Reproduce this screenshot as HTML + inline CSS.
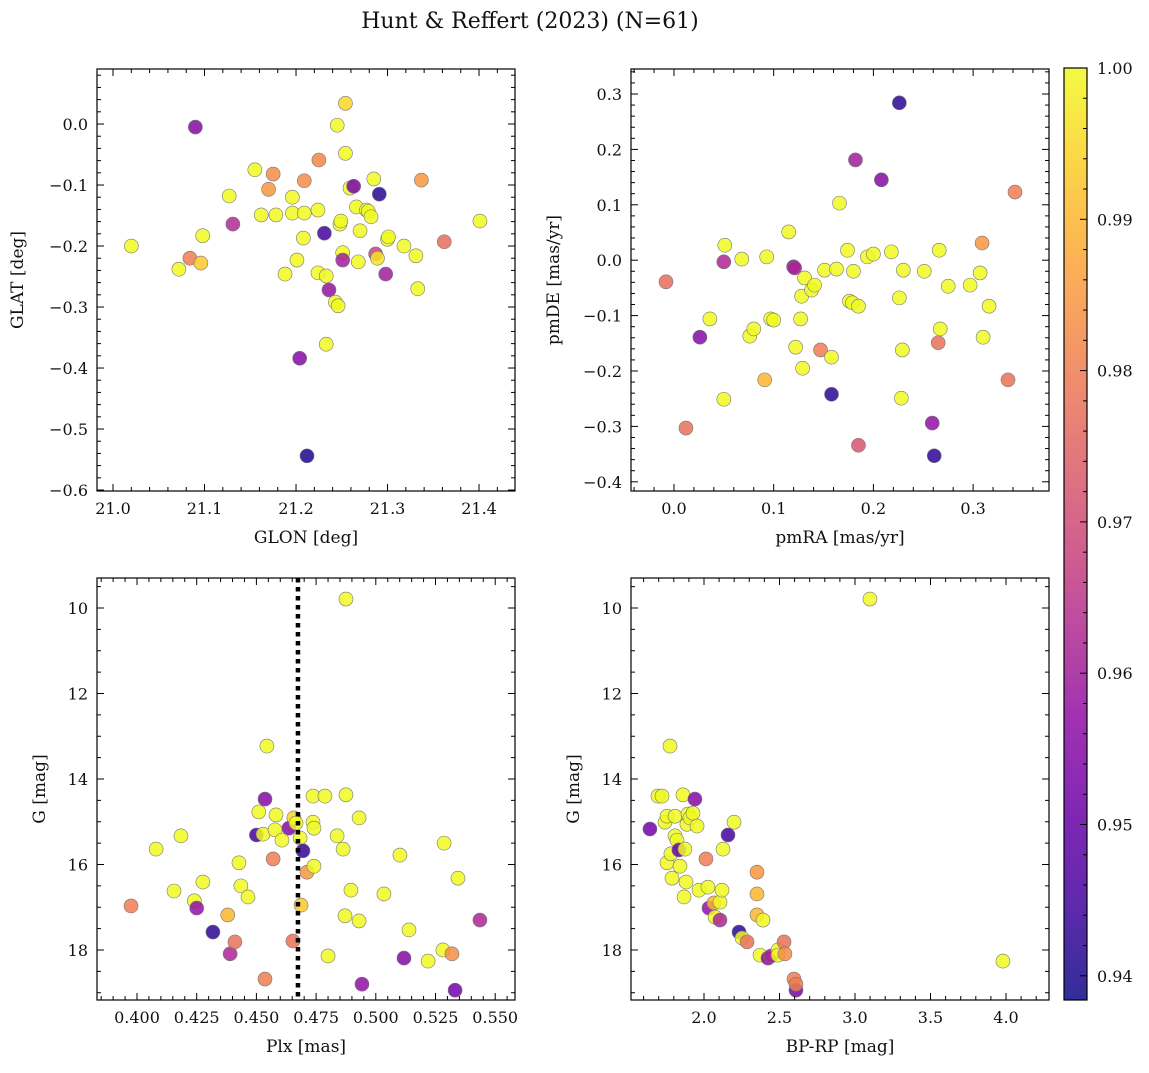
<!DOCTYPE html>
<html><head><meta charset="utf-8"><style>
body{margin:0;background:#fff}
svg text{font-family:"DejaVu Serif","Liberation Serif",serif;fill:#111}
</style></head><body>
<svg id="fig" width="1149" height="1068" xmlns="http://www.w3.org/2000/svg">
<text x="530" y="28" font-size="22" text-anchor="middle">Hunt &amp; Reffert (2023) (N=61)</text>
</svg>
<script>
// Panel 1: GLON vs GLAT
const glon1=[21.090,21.020,21.072,21.084,21.096,21.098,21.127,21.131,21.155,21.162,21.170,21.175,21.178,21.188,21.196,21.196,21.201,21.204,21.209,21.209,21.208,21.212,21.224,21.225,21.224,21.231,21.233,21.236,21.233,21.243,21.246,21.245,21.248,21.249,21.251,21.251,21.254,21.254,21.259,21.263,21.266,21.268,21.270,21.277,21.279,21.282,21.285,21.287,21.289,21.291,21.298,21.300,21.301,21.318,21.331,21.333,21.337,21.362,21.401];
const glat1=[-0.005,-0.200,-0.238,-0.220,-0.228,-0.183,-0.118,-0.164,-0.075,-0.149,-0.107,-0.082,-0.149,-0.246,-0.146,-0.120,-0.223,-0.384,-0.093,-0.146,-0.187,-0.544,-0.141,-0.059,-0.244,-0.179,-0.361,-0.272,-0.249,-0.292,-0.298,-0.002,-0.164,-0.159,-0.211,-0.223,0.034,-0.048,-0.105,-0.102,-0.136,-0.226,-0.175,-0.141,-0.143,-0.152,-0.090,-0.213,-0.220,-0.115,-0.246,-0.189,-0.185,-0.200,-0.216,-0.270,-0.092,-0.193,-0.159];
const prob1=[0.955,1,1,0.98,0.993,1,1,0.963,1,1,0.985,0.983,1,1,1,1,1,0.955,0.983,1,1,0.94,1,0.982,1,0.945,1,0.958,1,1,1,1,1,1,1,0.96,0.995,1,1,0.953,1,1,1,1,1,1,1,0.968,0.997,0.942,0.96,1,1,1,1,1,0.985,0.977,1];
// Panel 2: pmRA vs pmDE
const pmra2=[-0.008,0.012,0.026,0.036,0.050,0.051,0.050,0.068,0.076,0.080,0.091,0.093,0.097,0.100,0.115,0.120,0.121,0.122,0.127,0.128,0.129,0.131,0.138,0.141,0.147,0.151,0.158,0.158,0.163,0.166,0.174,0.176,0.179,0.180,0.182,0.185,0.185,0.194,0.200,0.208,0.218,0.226,0.226,0.228,0.229,0.230,0.251,0.259,0.261,0.265,0.266,0.267,0.275,0.297,0.307,0.309,0.310,0.316,0.335,0.342];
const pmde2=[-0.039,-0.303,-0.139,-0.106,-0.251,0.027,-0.003,0.002,-0.137,-0.124,-0.216,0.006,-0.106,-0.108,0.051,-0.012,-0.014,-0.157,-0.106,-0.065,-0.195,-0.032,-0.054,-0.045,-0.162,-0.018,-0.175,-0.242,-0.016,0.103,0.018,-0.074,-0.077,-0.020,0.181,-0.083,-0.334,0.006,0.011,0.145,0.015,0.284,-0.068,-0.249,-0.162,-0.018,-0.020,-0.294,-0.353,-0.149,0.018,-0.124,-0.047,-0.045,-0.023,0.031,-0.139,-0.083,-0.216,0.123];
const prob2=[0.977,0.978,0.955,1,1,1,0.962,1,1,1,0.99,1,1,1,1,0.955,0.962,1,1,1,1,1,1,1,0.98,1,1,0.942,1,1,1,1,1,1,0.96,1,0.972,1,1,0.955,1,0.942,1,1,1,1,1,0.957,0.942,0.978,1,1,1,1,1,0.985,1,1,0.978,0.98];
// Panel 3: Plx vs G
const plx3=[0.3975,0.408,0.4155,0.4184,0.424,0.425,0.4276,0.4318,0.438,0.439,0.441,0.4427,0.4435,0.4465,0.450,0.451,0.4528,0.4536,0.4536,0.4544,0.457,0.4578,0.4582,0.4607,0.4636,0.4653,0.4657,0.4666,0.4683,0.4687,0.4695,0.4712,0.4737,0.4741,0.4737,0.4741,0.4787,0.480,0.4838,0.4863,0.4871,0.4875,0.4875,0.4896,0.493,0.493,0.4942,0.5034,0.5101,0.5118,0.5139,0.5219,0.5286,0.5281,0.5319,0.5332,0.5344,0.5436];
const g3=[16.97,15.64,16.62,15.33,16.85,17.02,16.41,17.58,17.18,18.09,17.81,15.96,16.50,16.76,15.31,14.77,15.29,14.47,18.68,13.23,15.87,15.19,14.84,15.43,15.15,17.79,14.91,15.03,15.38,16.95,15.68,16.18,15.01,15.15,14.40,16.04,14.40,18.14,15.33,15.64,17.20,14.37,9.79,16.60,14.91,17.32,18.80,16.69,15.78,18.19,17.53,18.26,15.50,18.0,18.09,18.94,16.32,17.30];
const prob3=[0.98,1,1,1,1,0.957,1,0.942,0.99,0.962,0.978,1,1,1,0.945,1,1,0.955,0.98,1,0.98,1,1,1,0.955,0.978,0.995,1,1,0.993,0.943,0.985,1,1,1,1,1,1,1,1,1,1,1,1,1,1,0.957,1,1,0.955,1,1,1,1,0.983,0.952,1,0.962];
const plxMean=0.4674;
// Panel 4: BP-RP vs G
const bprp4=[1.642,1.695,1.722,1.742,1.755,1.755,1.775,1.781,1.788,1.808,1.808,1.821,1.834,1.841,1.861,1.868,1.874,1.881,1.887,1.894,1.907,1.927,1.940,1.954,1.967,2.013,2.026,2.033,2.066,2.073,2.106,2.106,2.119,2.126,2.159,2.199,2.232,2.252,2.285,2.351,2.351,2.351,2.371,2.391,2.424,2.444,2.490,2.490,2.530,2.536,2.596,2.609,2.609,3.099,3.98];
const g4=[15.17,14.40,14.40,15.01,14.87,15.96,13.23,15.75,16.32,14.87,15.33,15.43,15.66,16.04,14.37,16.76,15.64,16.41,15.06,14.82,14.91,14.80,14.47,15.10,16.60,15.87,16.53,17.02,16.90,17.23,16.88,17.30,16.60,15.64,15.31,15.01,17.58,17.72,17.81,16.18,16.69,17.18,18.12,17.30,18.19,18.14,18.0,18.12,17.81,18.09,18.68,18.94,18.80,9.79,18.26];
const prob4=[0.952,1,1,1,1,1,1,1,1,1,1,1,0.95,1,1,1,1,1,1,1,1,1,0.955,1,1,0.98,1,0.957,0.99,1,1,0.962,1,1,0.945,1,0.942,1,0.978,0.985,0.99,0.99,1,1,0.955,0.962,1,1,0.978,0.983,0.98,0.952,0.98,1,1];
const cbTicks=[0.94,0.95,0.96,0.97,0.98,0.99,1.00];
const cMin=0.9384,cMax=1.0;

const NS="http://www.w3.org/2000/svg";
const fig=document.getElementById('fig');
function mk(tag,attrs,parent){const e=document.createElementNS(NS,tag);for(const k in attrs)e.setAttribute(k,attrs[k]);(parent||fig).appendChild(e);return e;}
const stops=[[13,8,135],[65,4,157],[106,0,168],[143,13,164],[177,42,144],[204,71,120],[225,100,98],[242,132,75],[252,166,54],[252,206,37],[240,249,33]];
function plasma(t){t=Math.max(0,Math.min(1,t));const f=t*10,i=Math.min(9,Math.floor(f)),r=f-i;const a=stops[i],b=stops[i+1];return 'rgb('+a.map((v,k)=>Math.round(v+(b[k]-v)*r)).join(',')+')';}
function colorOf(p){return plasma((p-cMin)/(cMax-cMin));}

function panel(o){
  const {x0,x1,y0,y1,xmin,xmax,ymin,ymax,inv}=o;
  const sx=v=>x0+(v-xmin)/(xmax-xmin)*(x1-x0);
  const sy=inv?(v=>y0+(v-ymin)/(ymax-ymin)*(y1-y0)):(v=>y1-(v-ymin)/(ymax-ymin)*(y1-y0));
  const g=mk('g',{});
  
  
  const pts=mk('g',{},g);
  
  
  o.xs.forEach((xv,i)=>{
    const c=mk('circle',{cx:sx(xv),cy:sy(o.ys[i]),r:7,fill:colorOf(o.cs[i]),'fill-opacity':0.85,stroke:'#777','stroke-width':0.6},pts);
    
    
  });
  if(o.vline!==undefined){
    const l=mk('line',{x1:sx(o.vline),x2:sx(o.vline),y1:y0,y2:y1,stroke:'#000','stroke-width':4.5,'stroke-dasharray':'4.5,4.5'},g);
    
    
  }
  const fr=mk('rect',{x:x0,y:y0,width:x1-x0,height:y1-y0,fill:'none',stroke:'#000','stroke-width':1.2},g);
  
  
  const tk=mk('g',{stroke:'#000','stroke-width':1},g);
  const eps=1e-9;
  for(let v=Math.ceil(xmin/o.xminor-eps)*o.xminor;v<=xmax+eps;v+=o.xminor){
    const major=Math.abs(v/o.xmajor-Math.round(v/o.xmajor))<1e-6;const L=major?7:4;const X=sx(v);
    mk('line',{x1:X,x2:X,y1:y1,y2:y1-L},tk);mk('line',{x1:X,x2:X,y1:y0,y2:y0+L},tk);
  }
  for(let v=Math.ceil(Math.min(ymin,ymax)/o.yminor-eps)*o.yminor;v<=Math.max(ymin,ymax)+eps;v+=o.yminor){
    const major=Math.abs(v/o.ymajor-Math.round(v/o.ymajor))<1e-6;const L=major?7:4;const Y=sy(v);
    mk('line',{x1:x0,x2:x0+L,y1:Y,y2:Y},tk);mk('line',{x1:x1,x2:x1-L,y1:Y,y2:Y},tk);
  }
  o.xticks.forEach((v,i)=>{const t=mk('text',{x:sx(v),y:y1+23,'font-size':16,'text-anchor':'middle'},g);t.textContent=o.xlabels[i];
    });
  o.yticks.forEach((v,i)=>{const t=mk('text',{x:x0-9,y:sy(v)+6,'font-size':16,'text-anchor':'end'},g);t.textContent=o.ylabels[i];
    });
  const xt=mk('text',{x:(x0+x1)/2,y:y1+52,'font-size':17,'text-anchor':'middle'},g);xt.textContent=o.xtitle;
  
  const yt=mk('text',{x:0,y:0,'font-size':17,'text-anchor':'middle',transform:`translate(${o.ytx},${(y0+y1)/2}) rotate(-90)`},g);yt.textContent=o.ytitle;
  
}
const gT=[10,12,14,16,18];
panel({name:'glon-glat-panel',x0:97,x1:515,y0:69,y1:491,xmin:20.9825,xmax:21.4393,ymin:-0.6016,ymax:0.0902,xmajor:0.1,xminor:0.02,ymajor:0.1,yminor:0.02,
  xs:glon1,ys:glat1,cs:prob1,xticks:[21.0,21.1,21.2,21.3,21.4],xlabels:['21.0','21.1','21.2','21.3','21.4'],
  yticks:[0,-0.1,-0.2,-0.3,-0.4,-0.5,-0.6],ylabels:['0.0','−0.1','−0.2','−0.3','−0.4','−0.5','−0.6'],xtitle:'GLON [deg]',ytitle:'GLAT [deg]',ytx:23});
panel({name:'proper-motion-panel',x0:631,x1:1049,y0:69,y1:491,xmin:-0.0431,xmax:0.3761,ymin:-0.4166,ymax:0.3451,xmajor:0.1,xminor:0.02,ymajor:0.1,yminor:0.02,
  xs:pmra2,ys:pmde2,cs:prob2,xticks:[0,0.1,0.2,0.3],xlabels:['0.0','0.1','0.2','0.3'],
  yticks:[0.3,0.2,0.1,0,-0.1,-0.2,-0.3,-0.4],ylabels:['0.3','0.2','0.1','0.0','−0.1','−0.2','−0.3','−0.4'],xtitle:'pmRA [mas/yr]',ytitle:'pmDE [mas/yr]',ytx:559});
panel({name:'parallax-mag-panel',x0:97,x1:515,y0:578,y1:1000,xmin:0.38325,xmax:0.55829,ymin:9.298,ymax:19.17,inv:true,xmajor:0.025,xminor:0.005,ymajor:2,yminor:0.5,
  xs:plx3,ys:g3,cs:prob3,vline:plxMean,xticks:[0.4,0.425,0.45,0.475,0.5,0.525,0.55],xlabels:['0.400','0.425','0.450','0.475','0.500','0.525','0.550'],
  yticks:gT,ylabels:gT.map(String),xtitle:'Plx [mas]',ytitle:'G [mag]',ytx:45});
panel({name:'cmd-panel',x0:631,x1:1049,y0:578,y1:1000,xmin:1.5166,xmax:4.2848,ymin:9.298,ymax:19.17,inv:true,xmajor:0.5,xminor:0.1,ymajor:2,yminor:0.5,
  xs:bprp4,ys:g4,cs:prob4,xticks:[2,2.5,3,3.5,4],xlabels:['2.0','2.5','3.0','3.5','4.0'],
  yticks:gT,ylabels:gT.map(String),xtitle:'BP-RP [mag]',ytitle:'G [mag]',ytx:579});
// Colorbar
(function(){
  const x0=1064,x1=1087,y0=68,y1=1000;
  const g=mk('g',{});
  
  
  const defs=mk('defs',{},g);
  const lg=mk('linearGradient',{id:'cbg',x1:0,y1:1,x2:0,y2:0},defs);
  for(let i=0;i<=20;i++){mk('stop',{offset:i/20,'stop-color':plasma(i/20),'stop-opacity':0.85},lg);}
  mk('rect',{x:x0,y:y0,width:x1-x0,height:y1-y0,fill:'url(#cbg)',stroke:'#000','stroke-width':1.2},g);
  const sy=v=>y1-(v-cMin)/(cMax-cMin)*(y1-y0);
  for(let v=0.94;v<=1.0001;v+=0.002){const maj=Math.abs(v*100-Math.round(v*100))<1e-6;mk('line',{x1:x1,x2:x1-(maj?7:4),y1:sy(v),y2:sy(v),stroke:'#000','stroke-width':1},g);}
  cbTicks.forEach(v=>{const t=mk('text',{x:x1+10,y:sy(v)+6,'font-size':16},g);t.textContent=v.toFixed(2);
    });
})();
</script>
</body></html>
